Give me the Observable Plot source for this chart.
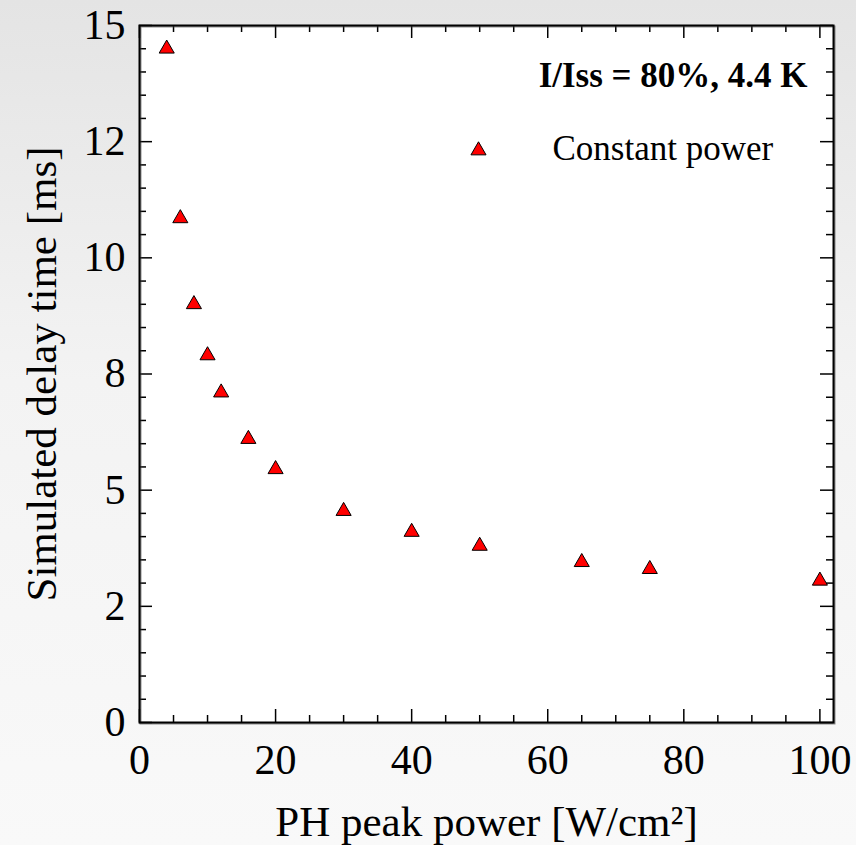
<!DOCTYPE html>
<html>
<head>
<meta charset="utf-8">
<script src="https://cdn.jsdelivr.net/npm/d3@7"></script>
<script src="https://cdn.jsdelivr.net/npm/@observablehq/plot@0.6"></script>
<style>
  html, body { margin: 0; padding: 0; }
  body { width: 856px; height: 845px; overflow: hidden;
         background: linear-gradient(to bottom, #e4e4e4 0%, #f3f3f3 45%, #f9f9f9 100%); }
  #chart svg { display: block; }
</style>
</head>
<body>
<div id="chart"></div>
<script>
// ---- data ----
const phPower = [4, 6, 8, 10, 12, 16, 20, 30, 40, 50, 65, 75, 100];
const delayTime = [14.5, 10.85, 9.0, 7.9, 7.1, 6.1, 5.45, 4.55, 4.1, 3.8, 3.45, 3.3, 3.05];
const seriesName = "Constant power";
const annotation = "I/Iss = 80%, 4.4 K";

const xMajor = [0, 20, 40, 60, 80, 100];
const xTickLabels = ["0", "20", "40", "60", "80", "100"];
const xMinor = [5, 10, 15, 25, 30, 35, 45, 50, 55, 65, 70, 75, 85, 90, 95];
const yMajor = [0, 2.5, 5, 7.5, 10, 12.5, 15];
const yTickLabels = ["0", "2", "5", "8", "10", "12", "15"];
const yMinor = [0.5, 1, 1.5, 2, 3, 3.5, 4, 4.5, 5.5, 6, 6.5, 7, 8, 8.5, 9, 9.5,
                10.5, 11, 11.5, 12, 13, 13.5, 14, 14.5];

const xTitle = "PH peak power [W/cm²]";
const yTitle = "Simulated delay time [ms]";

const points = phPower.map((p, i) => ({power: p, delay: delayTime[i]}));

// ---- layout ----
const W = 856, H = 845;
const mL = 139, mR = 23, mT = 25, mB = 123;
const pw = W - mL - mR, ph = H - mT - mB;
const majorLen = 13, minorLen = 7;
const font = "'Liberation Serif', 'Times New Roman', Times, serif";

const xLab = new Map(xMajor.map((v, i) => [v, xTickLabels[i]]));
const yLab = new Map(yMajor.map((v, i) => [v, yTickLabels[i]]));

const chart = Plot.plot({
  width: W, height: H,
  marginLeft: mL, marginRight: mR, marginTop: mT, marginBottom: mB,
  style: {background: "transparent", fontFamily: font, color: "black", overflow: "visible"},
  x: {domain: [0, 102]},
  y: {domain: [0, 15]},
  marks: [
    Plot.frame({fill: "white", stroke: "none"}),
    // x ticks bottom/top (inward)
    Plot.tickX(xMajor, {x: d => d, insetTop: ph - majorLen, stroke: "black", strokeWidth: 1.5}),
    Plot.tickX(xMajor, {x: d => d, insetBottom: ph - majorLen, stroke: "black", strokeWidth: 1.5}),
    Plot.tickX(xMinor, {x: d => d, insetTop: ph - minorLen, stroke: "black", strokeWidth: 1.5}),
    Plot.tickX(xMinor, {x: d => d, insetBottom: ph - minorLen, stroke: "black", strokeWidth: 1.5}),
    // y ticks left/right (inward)
    Plot.tickY(yMajor, {y: d => d, insetRight: pw - majorLen, stroke: "black", strokeWidth: 1.5}),
    Plot.tickY(yMajor, {y: d => d, insetLeft: pw - majorLen, stroke: "black", strokeWidth: 1.5}),
    Plot.tickY(yMinor, {y: d => d, insetRight: pw - minorLen, stroke: "black", strokeWidth: 1.5}),
    Plot.tickY(yMinor, {y: d => d, insetLeft: pw - minorLen, stroke: "black", strokeWidth: 1.5}),
    Plot.frame({stroke: "#444", strokeWidth: 2, dx: 1, dy: 1, strokeOpacity: 0.6}),
    Plot.frame({stroke: "black", strokeWidth: 2}),
    Plot.axisX(xMajor, {tickSize: 0, tickPadding: 22, tickFormat: d => xLab.get(d),
      fontSize: 42, fill: "black", label: null}),
    Plot.axisY(yMajor, {tickSize: 0, tickPadding: 14, tickFormat: d => yLab.get(d),
      fontSize: 42, fill: "black", label: null}),
    // axis titles
    Plot.text([xTitle], {text: d => d, frameAnchor: "bottom", dy: 113, lineAnchor: "bottom",
      fontSize: 43, fill: "black"}),
    Plot.text([yTitle], {text: d => d, frameAnchor: "left", dx: -97, rotate: -90,
      lineAnchor: "middle", textAnchor: "middle", fontSize: 43, fill: "black"}),
    // data
    Plot.dot(points, {x: "power", y: "delay", symbol: "triangle", r: 5.6,
      fill: "#ff0000", stroke: "black", strokeWidth: 1}),
    // annotation + legend
    Plot.text([annotation], {text: d => d, frameAnchor: "top-right", textAnchor: "end",
      lineAnchor: "bottom", dx: -26, dy: 61, fontSize: 35, fontWeight: "bold", fill: "black"}),
    Plot.dot([seriesName], {frameAnchor: "top-left", dx: 339, dy: 125, symbol: "triangle", r: 5.6,
      fill: "#ff0000", stroke: "black", strokeWidth: 1}),
    Plot.text([seriesName], {text: d => d, frameAnchor: "top-left", textAnchor: "start",
      lineAnchor: "bottom", dx: 413, dy: 134, fontSize: 35, fill: "black"})
  ]
});
document.getElementById("chart").appendChild(chart);
</script>
</body>
</html>
